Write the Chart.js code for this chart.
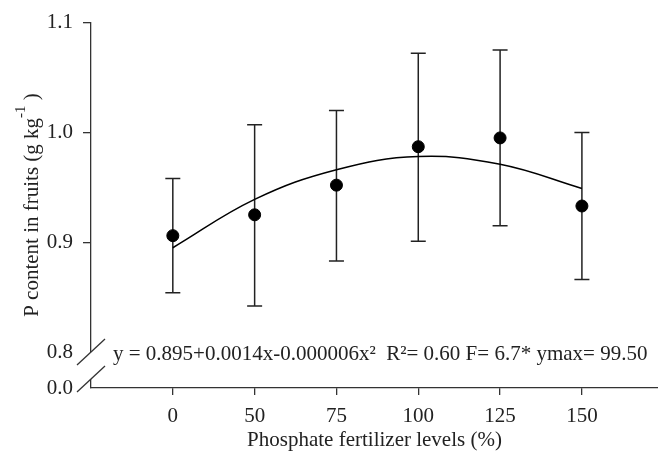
<!DOCTYPE html>
<html>
<head>
<meta charset="utf-8">
<script src="https://cdn.jsdelivr.net/npm/chart.js@4/dist/chart.umd.min.js"></script>
<style>
  html, body { margin: 0; padding: 0; background: #fff; overflow: hidden; }
  #wrap { width: 665px; height: 457px; }
</style>
</head>
<body>
<div id="wrap"><canvas id="grafico"></canvas></div>
<script>
// Levels of phosphate fertilizer (%), one category per position
const levels = ["0", "50", "75", "100", "125", "150"];

// Mean P content in fruits (g kg-1) and error bar ends
const means = [0.906, 0.925, 0.952, 0.987, 0.995, 0.933];
const upper = [0.958, 1.007, 1.020, 1.072, 1.075, 1.000];
const lower = [0.854, 0.842, 0.883, 0.901, 0.915, 0.866];

// Fitted curve at each level
const fitted = [0.895, 0.939, 0.966, 0.978, 0.971, 0.949];

const yTicks = [0.8, 0.9, 1.0, 1.1];
const equation = "y = 0.895+0.0014x-0.000006x\u00b2  R\u00b2= 0.60 F= 6.7* ymax= 99.50";

const Y_BOTTOM = 0.7673; // stands for 0.0 below the axis break
const serif = "'Liberation Serif', 'Times New Roman', serif";
const ink = "#222";

const toPts = arr => arr.map((v, i) => ({ x: i, y: v }));

// error bars, drawn under the points
const errorBars = {
  id: "errorBars",
  beforeDatasetsDraw(chart) {
    const { ctx, scales: { x, y } } = chart;
    ctx.save();
    ctx.strokeStyle = ink;
    ctx.lineWidth = 1.5;
    means.forEach((m, i) => {
      const px = x.getPixelForValue(i);
      const top = y.getPixelForValue(upper[i]);
      const bot = y.getPixelForValue(lower[i]);
      ctx.beginPath();
      ctx.moveTo(px, top); ctx.lineTo(px, bot);
      ctx.moveTo(px - 7.5, top); ctx.lineTo(px + 7.5, top);
      ctx.moveTo(px - 7.5, bot); ctx.lineTo(px + 7.5, bot);
      ctx.stroke();
    });
    ctx.restore();
  }
};

// axis break, equation and y title with superscript
const extras = {
  id: "extras",
  afterDraw(chart) {
    const { ctx, chartArea: a } = chart;
    ctx.save();
    const ax = a.left;
    const c1 = 352, c2 = 379;
    ctx.fillStyle = "#fff";
    ctx.fillRect(ax - 2, c1, 4, c2 - c1);
    ctx.strokeStyle = "#333";
    ctx.lineWidth = 1.3;
    [c1, c2].forEach(c => {
      ctx.beginPath();
      ctx.moveTo(ax - 14, c + 13);
      ctx.lineTo(ax + 14, c - 13);
      ctx.stroke();
    });

    ctx.fillStyle = ink;
    ctx.font = "21px " + serif;
    ctx.textBaseline = "middle";
    ctx.textAlign = "left";
    ctx.fillText(equation, 113, 354);

    // y title, rotated
    ctx.translate(32, 205);
    ctx.rotate(-Math.PI / 2);
    const main = "P content in fruits (g kg";
    const sup = "-1";
    const tail = " )";
    ctx.font = "21px " + serif;
    const w1 = ctx.measureText(main).width;
    const w3 = ctx.measureText(tail).width;
    ctx.font = "15px " + serif;
    const w2 = ctx.measureText(sup).width;
    let sx = -(w1 + w2 + w3) / 2;
    ctx.font = "21px " + serif;
    ctx.fillText(main, sx, 0);
    ctx.font = "15px " + serif;
    ctx.fillText(sup, sx + w1, -11);
    ctx.font = "21px " + serif;
    ctx.fillText(tail, sx + w1 + w2, 0);
    ctx.restore();
  }
};

const ctx = document.getElementById("grafico").getContext("2d");

new Chart(ctx, {
  type: "scatter",
  data: {
    datasets: [
      {
        label: "Mean",
        data: toPts(means),
        showLine: false,
        pointRadius: 6,
        pointHoverRadius: 6,
        pointBackgroundColor: "#000",
        pointBorderColor: "#000",
        order: 0
      },
      {
        label: "Fit",
        data: toPts(fitted),
        showLine: true,
        tension: 0.4,
        pointRadius: 0,
        borderColor: "#000",
        borderWidth: 1.5,
        order: 1
      }
    ]
  },
  options: {
    responsive: true,
    maintainAspectRatio: false,
    animation: false,
    layout: { padding: { top: 22, right: 0, left: 0, bottom: 0 } },
    plugins: {
      legend: { display: false },
      tooltip: { enabled: false }
    },
    scales: {
      x: {
        type: "linear",
        min: -1,
        max: 5.93,
        afterBuildTicks: s => { s.ticks = levels.map((_, i) => ({ value: i })); },
        afterFit: s => { s.height = 69; s.paddingLeft = 0; s.paddingRight = 0; },
        ticks: {
          callback: v => levels[v],
          color: ink,
          font: { family: serif, size: 21 },
          padding: 9,
          maxRotation: 0
        },
        grid: { drawOnChartArea: false, tickLength: 7, color: "#333", lineWidth: 1.3 },
        border: { color: "#333", width: 1.3 },
        title: {
          display: true,
          text: "Phosphate fertilizer levels (%)",
          color: ink,
          font: { family: serif, size: 21 },
          padding: { top: 0, bottom: 4 }
        }
      },
      y: {
        min: Y_BOTTOM,
        max: 1.1,
        afterBuildTicks: s => { s.ticks = [Y_BOTTOM, ...yTicks].map(v => ({ value: v })); },
        afterFit: s => { s.width = 91; },
        ticks: {
          callback: v => (v === Y_BOTTOM ? "0.0" : v.toFixed(1)),
          color: ink,
          font: { family: serif, size: 21 },
          padding: 10
        },
        grid: {
          drawOnChartArea: false,
          tickLength: 8,
          lineWidth: 1.3,
          color: c => (c.tick && c.tick.value < 0.85 ? "rgba(0,0,0,0)" : "#333")
        },
        border: { color: "#333", width: 1.3 }
      }
    }
  },
  plugins: [errorBars, extras]
});
</script>
</body>
</html>
